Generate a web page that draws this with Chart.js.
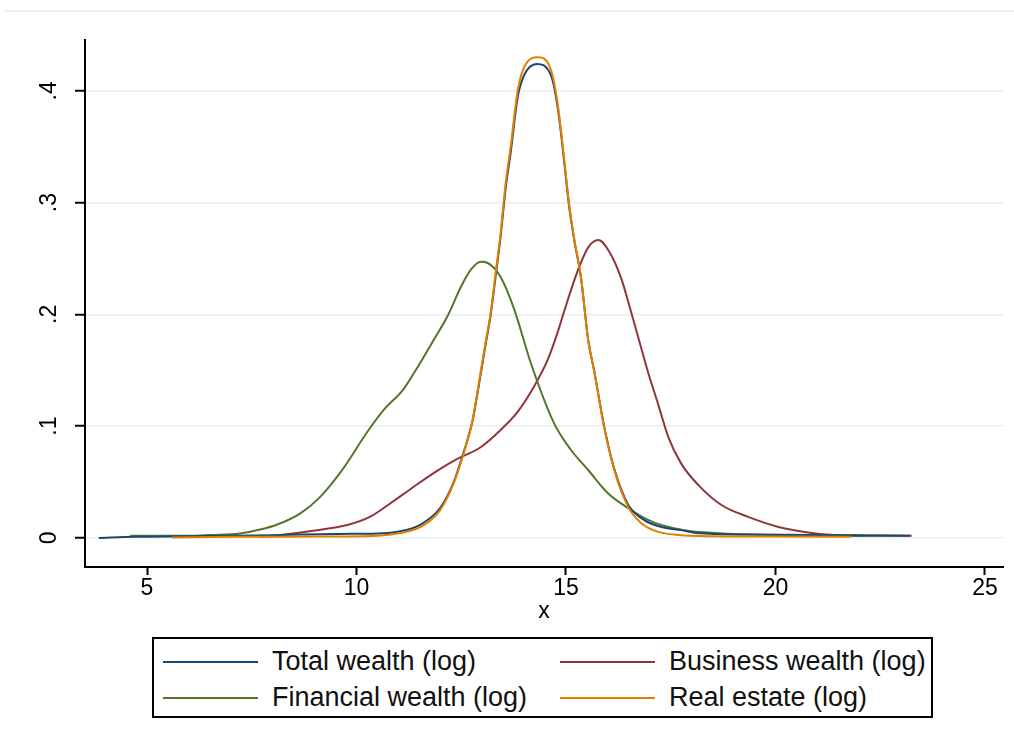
<!DOCTYPE html>
<html>
<head>
<meta charset="utf-8">
<script src="https://cdn.jsdelivr.net/npm/chart.js@4.4.1/dist/chart.umd.min.js"></script>
<style>
  html, body { margin: 0; padding: 0; background: #fff; }
  #wrap { position: relative; width: 1014px; height: 747px; overflow: hidden;
          font-family: "Liberation Sans", Arial, sans-serif; }
  #frame { position: absolute; left: 4px; right: 0; top: 10px; height: 0;
           border-top: 2px solid #e6eef1; }
  #chart { position: absolute; left: 0; top: 0; }
  #legend { position: absolute; left: 152px; top: 637px; width: 781px; height: 81px;
            border: 2px solid #000; box-sizing: border-box; }
  .item { position: absolute; display: flex; align-items: center; font-size: 27px;
          color: #111; white-space: nowrap; line-height: 1; }
  .swatch { width: 95px; height: 0; border-top: 2px solid; margin-right: 14px; }
</style>
</head>
<body>
<div id="wrap">
  <div id="frame"></div>
  <canvas id="chart" width="1014" height="625" style="width:1014px;height:625px"></canvas>
  <div id="legend"></div>
</div>
<script>
// Kernel density estimates of log wealth components
const totalX = [3.85, 4.7, 6.0, 8.0, 9.6, 10.5, 11.05, 11.53, 12.0, 12.32, 12.56, 12.77, 12.97, 13.09, 13.2, 13.33, 13.44, 13.56, 13.68, 13.85, 14.0, 14.3, 14.64, 14.81, 14.95, 15.07, 15.19, 15.36, 15.53, 15.67, 15.91, 16.15, 16.48, 16.87, 17.3, 17.75, 18.1, 19.5, 21.5, 23.2];
const totalY = [0.0, 0.001, 0.0015, 0.0025, 0.0036, 0.004, 0.006, 0.012, 0.027, 0.050, 0.077, 0.105, 0.148, 0.175, 0.199, 0.237, 0.270, 0.313, 0.345, 0.395, 0.414, 0.424, 0.414, 0.383, 0.339, 0.298, 0.268, 0.232, 0.177, 0.150, 0.100, 0.062, 0.030, 0.016, 0.0095, 0.007, 0.0045, 0.003, 0.0025, 0.002];

const businessX = [7.7, 8.18, 8.97, 9.78, 10.33, 10.81, 11.36, 11.84, 12.32, 12.97, 13.44, 13.85, 14.23, 14.57, 14.81, 14.95, 15.29, 15.53, 15.77, 16.08, 16.32, 16.48, 16.72, 16.96, 17.2, 17.44, 17.75, 18.16, 18.71, 19.35, 20.07, 20.86, 21.4, 22.3, 23.25];
const businessY = [0.001, 0.0027, 0.0065, 0.0115, 0.019, 0.031, 0.0456, 0.058, 0.069, 0.0814, 0.0966, 0.113, 0.135, 0.160, 0.185, 0.202, 0.240, 0.260, 0.2665, 0.253, 0.232, 0.212, 0.180, 0.148, 0.1195, 0.0905, 0.0665, 0.0473, 0.0295, 0.0188, 0.0098, 0.0045, 0.0027, 0.002, 0.002];

const financialX = [4.6, 6.0, 6.5, 7.22, 7.7, 8.11, 8.66, 9.14, 9.69, 10.26, 10.65, 11.12, 11.46, 11.84, 12.18, 12.49, 12.73, 12.97, 13.13, 13.44, 13.76, 14.16, 14.71, 15.12, 15.53, 16.0, 16.48, 16.96, 17.27, 17.82, 18.54, 20.0, 22.1];
const financialY = [0.002, 0.002, 0.0027, 0.004, 0.0075, 0.012, 0.022, 0.037, 0.0625, 0.095, 0.1145, 0.133, 0.153, 0.177, 0.199, 0.2245, 0.240, 0.247, 0.246, 0.2335, 0.205, 0.1565, 0.103, 0.0787, 0.0608, 0.040, 0.0268, 0.0161, 0.0116, 0.007, 0.0045, 0.0025, 0.002];

const realX = [5.6, 7.0, 9.0, 10.5, 11.05, 11.53, 12.0, 12.32, 12.56, 12.77, 12.97, 13.09, 13.2, 13.33, 13.44, 13.56, 13.68, 13.85, 14.0, 14.33, 14.64, 14.81, 14.95, 15.07, 15.19, 15.36, 15.53, 15.67, 15.91, 16.15, 16.48, 16.79, 17.2, 17.68, 18.5, 20.0, 21.8];
const realY = [0.0005, 0.001, 0.0012, 0.002, 0.0045, 0.0098, 0.025, 0.049, 0.076, 0.1055, 0.150, 0.177, 0.201, 0.240, 0.273, 0.3175, 0.350, 0.401, 0.421, 0.430, 0.419, 0.386, 0.341, 0.300, 0.269, 0.233, 0.177, 0.150, 0.099, 0.061, 0.028, 0.0134, 0.0054, 0.0027, 0.0015, 0.0012, 0.001];

const seriesNames = ['Total wealth (log)', 'Business wealth (log)', 'Financial wealth (log)', 'Real estate (log)'];
const xTicks = [5, 10, 15, 20, 25];
const yTicks = [0, 0.1, 0.2, 0.3, 0.4];
const yTickLabels = ['0', '.1', '.2', '.3', '.4'];
const xTitle = 'x';

const FONT = '"Liberation Sans", Arial, sans-serif';
const colors = ['#1a476f', '#90353b', '#55752f', '#e37e00'];
// higher "order" is painted first, so real estate ends up on top
const drawOrder = [2, 4, 3, 1];
const xs = [totalX, businessX, financialX, realX];
const ys = [totalY, businessY, financialY, realY];

const zip = (a, b) => a.map((v, i) => ({ x: v, y: b[i] }));

const datasets = seriesNames.map((name, i) => ({
  label: name,
  data: zip(xs[i], ys[i]),
  borderColor: colors[i],
  backgroundColor: colors[i],
  borderWidth: 2,
  pointRadius: 0,
  fill: false,
  cubicInterpolationMode: 'monotone',
  order: drawOrder[i]
}));

new Chart(document.getElementById('chart'), {
  type: 'line',
  data: { datasets },
  options: {
    responsive: false,
    animation: false,
    layout: { padding: { top: 40, right: 11, left: 0, bottom: 0 } },
    plugins: { legend: { display: false }, tooltip: { enabled: false } },
    scales: {
      x: {
        type: 'linear',
        min: 3.52,
        max: 25.43,
        afterBuildTicks: s => { s.ticks = xTicks.map(v => ({ value: v })); },
        afterFit: s => { s.height = 58; },
        ticks: { font: { size: 23, family: FONT }, color: '#000', padding: 0,
                 maxRotation: 0, callback: v => String(v) },
        grid: { drawOnChartArea: false, drawTicks: true, tickLength: 8,
                tickColor: '#000', tickWidth: 2 },
        border: { color: '#000', width: 2 },
        title: { display: true, text: xTitle, color: '#000',
                 font: { size: 23, family: FONT }, padding: { top: -3, bottom: 0 } }
      },
      y: {
        type: 'linear',
        min: -0.026,
        max: 0.4455,
        afterBuildTicks: s => { s.ticks = yTicks.map(v => ({ value: v })); },
        afterFit: s => { s.width = 85; },
        ticks: { font: { size: 23, family: FONT }, color: '#000', padding: 16,
                 minRotation: 90, maxRotation: 90, crossAlign: 'center',
                 callback: v => yTickLabels[yTicks.findIndex(t => Math.abs(t - v) < 1e-9)] },
        grid: { color: '#e6eef1', lineWidth: 1.5, drawTicks: true, tickLength: 10,
                tickColor: '#000', tickWidth: 2 },
        border: { color: '#000', width: 2 }
      }
    }
  }
});

// Boxed two-column legend
const legend = document.getElementById('legend');
const cols = [9, 406];
const rows = [22, 58];
seriesNames.forEach((name, i) => {
  const el = document.createElement('div');
  el.className = 'item';
  el.style.left = cols[i % 2] + 'px';
  el.style.top = (rows[Math.floor(i / 2)] - 13) + 'px';
  const sw = document.createElement('span');
  sw.className = 'swatch';
  sw.style.borderColor = colors[i];
  const tx = document.createElement('span');
  tx.textContent = name;
  el.appendChild(sw);
  el.appendChild(tx);
  legend.appendChild(el);
});
</script>
</body>
</html>
